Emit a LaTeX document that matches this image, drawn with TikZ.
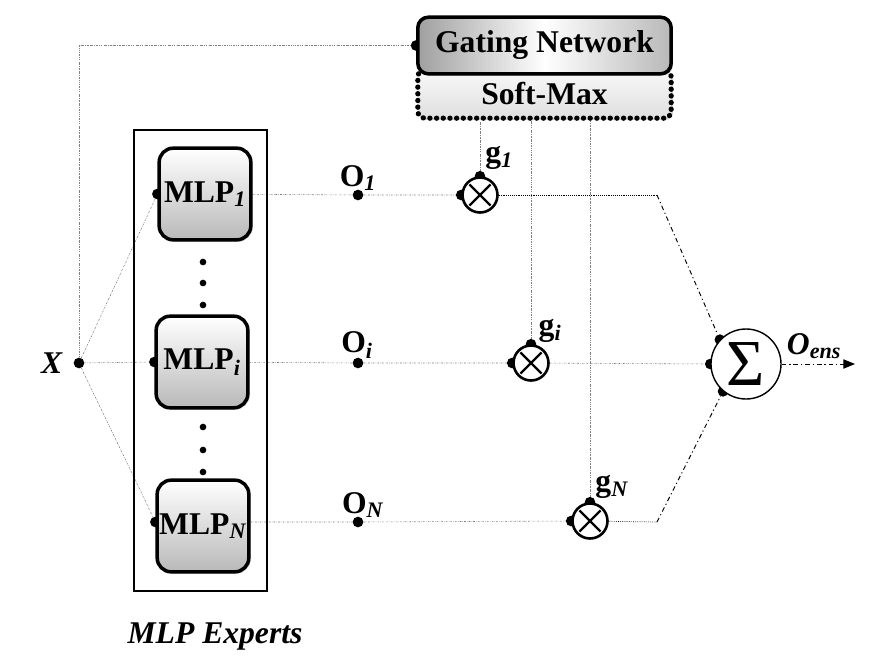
\documentclass[tikz,border=0pt]{standalone}
\usepackage{fontspec}
\setmainfont{Liberation Serif}
\usetikzlibrary{positioning,shadows,arrows.meta,backgrounds}

\tikzset{
  withshadow/.style={drop shadow={shadow xshift=1.5pt,shadow yshift=-1.5pt,fill=gray!70}},
  mlp/.style={draw,line width=3pt,rounded corners=12pt,minimum width=2.75cm,minimum height=2.75cm,
    inner sep=0pt,top color=white,bottom color=gray!55,withshadow,font=\fontsize{27}{30}\selectfont\bfseries},
  gate/.style={draw,line width=3pt,rounded corners=9pt,minimum width=7.6cm,minimum height=1.7cm,
    left color=gray!75,right color=gray!55,middle color=white,withshadow,font=\fontsize{27}{30}\selectfont\bfseries},
  softmax/.style={draw,line width=4.5pt,dash pattern=on 0.1pt off 5.6pt,line cap=round,rounded corners=6pt,
    minimum width=7.6cm,minimum height=1.45cm,top color=gray!5,bottom color=gray!25,withshadow,
    font=\fontsize{27}{30}\selectfont\bfseries},
  mult/.style={circle,draw,fill=white,line width=2.2pt,minimum size=1.05cm,inner sep=0pt},
  sumnode/.style={circle,draw,fill=white,line width=1.2pt,minimum size=2.1cm,inner sep=0pt,
    font=\fontsize{56}{56}\selectfont},
  frame/.style={draw,line width=0.9pt,minimum width=3.99cm,minimum height=13.83cm},
  pin/.style={circle,fill,inner sep=0pt,minimum size=0.32cm},
  lbl/.style={font=\fontsize{27}{30}\selectfont\bfseries,inner sep=0pt},
  conn/.style={gray,line width=0.5pt,dash pattern=on 1.5pt off 1pt on 0.4pt off 1pt},
  dotline/.style={black,line width=0.6pt,densely dotted},
  sumline/.style={black,line width=0.8pt,dash pattern=on 4pt off 2.5pt on 1pt off 2.5pt}
}

\begin{document}
\begin{tikzpicture}[x=0.03cm,y=-0.03cm]
  \useasboundingbox (0,0) rectangle (893,664);

  % experts
  \node[frame] (experts) at (200.5,360.5) {};
  \node[mlp] (mlp1) at (205,194) {MLP\textsubscript{\textit{1}}};
  \node[mlp] (mlpi) at (202,362) {MLP\textsubscript{\textit{i}}};
  \node[mlp] (mlpN) at (203,526) {MLP\textsubscript{\textit{N}}};
  \foreach \y in {262,283,305,427,450,472}
    \fill (203,\y) circle [radius=0.1cm];
  \node[lbl] (expertslbl) at (215,636) {\textit{MLP Experts}};

  % gating network
  \node[softmax] (soft) at (544.5,94) {Soft-Max};
  \node[gate] (gating) at (544.5,45.5) {Gating Network};

  % products and sum
  \node[mult] (m1) at (480,195) {};
  \node[mult] (mi) at (531,363) {};
  \node[mult] (mN) at (590,521) {};
  \foreach \m in {m1,mi,mN}
    \draw[line width=2pt] (\m.center) +(45:15) -- +(225:15) +(135:15) -- +(-45:15);
  \node[sumnode] (sum) at (746,364) {Σ};

  % labels
  \node[lbl] (xlbl) at (52,363) {\textit{X}};
  \node[lbl] (o1lbl) at (358,178) {O\textsubscript{\textit{1}}};
  \node[lbl] (oilbl) at (357,345) {O\textsubscript{\textit{i}}};
  \node[lbl] (oNlbl) at (363,505) {O\textsubscript{\textit{N}}};
  \node[lbl] (g1lbl) at (499,158) {g\textsubscript{\textit{1}}};
  \node[lbl] (gilbl) at (550,331) {g\textsubscript{\textit{i}}};
  \node[lbl] (gNlbl) at (612,487) {g\textsubscript{\textit{N}}};
  \node[lbl] (oenslbl) at (814,346) {\textit{O\textsubscript{ens}}};

  \begin{scope}[on background layer]
    \node[pin] (xin) at (79,363) {};
    \node[pin] (gin) at (gating.west) {};
    \node[pin] (p1) at (mlp1.west) {};
    \node[pin] (pi) at (mlpi.west) {};
    \node[pin] (pN) at ([yshift=0.12cm]mlpN.west) {};
    \node[pin] (o1) at (358,195) {};
    \node[pin] (oi) at (358,363) {};
    \node[pin] (oN) at (358,522) {};
    \foreach \m in {m1,mi,mN} {
      \node[pin] (\m l) at (\m.west) {};
      \node[pin] (\m t) at (\m.north) {};
    }
    \node[pin] (s1) at (sum.137) {};
    \node[pin] (si) at (sum.west) {};
    \node[pin] (sN) at (sum.-130) {};
    \coordinate (c1) at (657,195);
    \coordinate (cN) at (657,522);
    \coordinate (out) at (855,364);

    % connectors
    \draw[conn] (xin) -- (p1);
    \draw[conn] (xin) -- (pi);
    \draw[conn] (xin) -- (pN);
    \draw[conn] (xin) |- (gin);
    \draw[conn] (mlp1) -- (o1) -- (m1l);
    \draw[conn] (mlpi) -- (oi) -- (mil);
    \draw[conn] (mlpN.east |- oN) -- (oN) -- (mNl);
    \foreach \m in {m1,mi,mN}
      \draw[conn] (\m t) -- (\m t |- soft.south);
    \draw[dotline] (m1) -- (c1);
    \draw[sumline] (c1) -- (s1);
    \draw[conn] (mi) -- (si);
    \draw[dotline] (mN) -- (cN);
    \draw[sumline] (cN) -- (sN);
    \draw[sumline,-{Triangle[length=10pt,width=8pt]}] (sum) -- (out);
  \end{scope}
\end{tikzpicture}
\end{document}
